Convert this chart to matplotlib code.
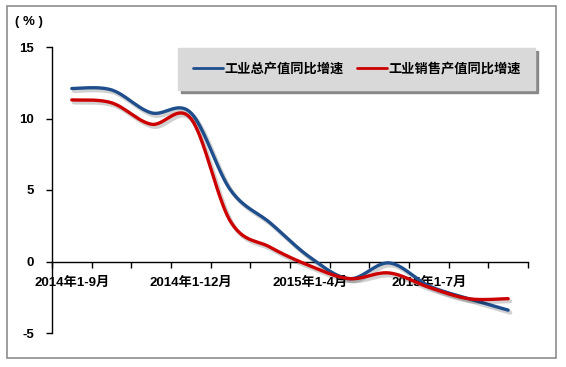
import numpy as np
import matplotlib
matplotlib.use("Agg")
import matplotlib.pyplot as plt
import matplotlib.patheffects as pe
from matplotlib.patches import Rectangle

categories = ['2014年1-9月', '2014年1-10月', '2014年1-11月', '2014年1-12月',
              '2015年1-2月', '2015年1-3月', '2015年1-4月', '2015年1-5月',
              '2015年1-6月', '2015年1-7月', '2015年1-8月', '2015年1-9月']
total_output = [12.1, 12.0, 10.4, 10.4, 5.0, 2.7, 0.3, -1.2, -0.1, -1.7, -2.6, -3.4]
sales_output = [11.3, 11.1, 9.6, 10.0, 2.8, 1.0, -0.3, -1.2, -0.8, -1.8, -2.6, -2.6]
series_names = ['工业总产值同比增速', '工业销售产值同比增速']
shown_ticks = [0, 3, 6, 9]
y_ticks = [-5, 0, 5, 10, 15]

FONT = ['Liberation Sans', 'Noto Sans CJK SC', 'DejaVu Sans']
plt.rcParams['font.family'] = FONT
plt.rcParams['font.weight'] = 'bold'


def smooth(xs, ys, n=40):
    """Excel-style smoothed line: cubic Bezier segments, Catmull-Rom control points."""
    P = np.column_stack([np.asarray(xs, float), np.asarray(ys, float)])
    ext = np.vstack([P[0], P, P[-1]])
    out = []
    t = np.linspace(0, 1, n)[:, None]
    for i in range(len(P) - 1):
        p0, p3 = P[i], P[i + 1]
        c1 = p0 + (ext[i + 2] - ext[i]) / 6.0
        c2 = p3 - (ext[i + 3] - ext[i + 1]) / 6.0
        seg = ((1 - t) ** 3) * p0 + 3 * ((1 - t) ** 2) * t * c1 + 3 * (1 - t) * t ** 2 * c2 + t ** 3 * p3
        out.append(seg if i == 0 else seg[1:])
    s = np.vstack(out)
    return s[:, 0], s[:, 1]


fig = plt.figure(figsize=(5.66, 3.67), dpi=100)
W, H = 566, 367
ax = fig.add_axes([52 / W, 1 - 333 / H, (528 - 52) / W, (333 - 47) / H])

x = np.arange(len(categories))
colors = ['#1F4E8C', '#CC0000']
for vals, col, name in zip([total_output, sales_output], colors, series_names):
    sx, sy = smooth(x, vals)
    ax.plot(sx, sy, color=col, lw=2.4, label=name, zorder=3, solid_capstyle='round',
            path_effects=[pe.SimpleLineShadow(offset=(1.5, -1.8), shadow_color='black', alpha=0.18, linewidth=3.0),
                          pe.Normal()])

ax.set_xlim(-0.5, len(categories) - 0.5)
ax.set_ylim(-5, 15)

for s in ['top', 'right']:
    ax.spines[s].set_visible(False)
ax.spines['bottom'].set_position(('data', 0))
ax.spines['bottom'].set_color('black')
ax.spines['left'].set_color('black')
ax.spines['bottom'].set_linewidth(1.0)
ax.spines['left'].set_linewidth(1.0)

ax.set_yticks(y_ticks)
ax.set_yticklabels([str(v) for v in y_ticks], fontsize=9.5, fontweight='bold')
ax.tick_params(axis='y', direction='out', length=4, width=1, pad=9)

ax.set_xticks(np.arange(-0.5, len(categories), 1.0))
ax.set_xticklabels([])
ax.tick_params(axis='x', which='major', direction='out', length=4, width=1)
ax.set_xticks(shown_ticks, minor=True)
ax.set_xticklabels([categories[i] for i in shown_ticks], minor=True, fontsize=9.5, fontweight='bold')
ax.tick_params(axis='x', which='minor', length=0, pad=11)

fig.text(29 / W, 1 - 22 / H, '( % )', ha='center', va='center', fontsize=9.5, fontweight='bold')

leg = ax.legend(loc='upper left', bbox_to_anchor=(178 / W, 1 - 48 / H), bbox_transform=fig.transFigure,
                ncol=2, frameon=True, fancybox=False, shadow={'color': '#7f7f7f', 'alpha': 0.9},
                prop={'size': 9.5, 'weight': 'bold', 'family': FONT},
                handlelength=2.3, handletextpad=0.1, columnspacing=1.0, borderpad=1.1, borderaxespad=0)
leg.get_frame().set_facecolor('#D9D9D9')
leg.get_frame().set_edgecolor('#D9D9D9')
leg.get_frame().set_alpha(1)
for h in leg.get_lines():
    h.set_path_effects([])
    h.set_linewidth(2.0)

fig.patches.append(Rectangle((7 / W, 1 - 358 / H), (556 - 7) / W, (358 - 6) / H, transform=fig.transFigure,
                             fill=False, edgecolor='#8C8C8C', linewidth=1.2))

fig.savefig('out.png', dpi=100)
